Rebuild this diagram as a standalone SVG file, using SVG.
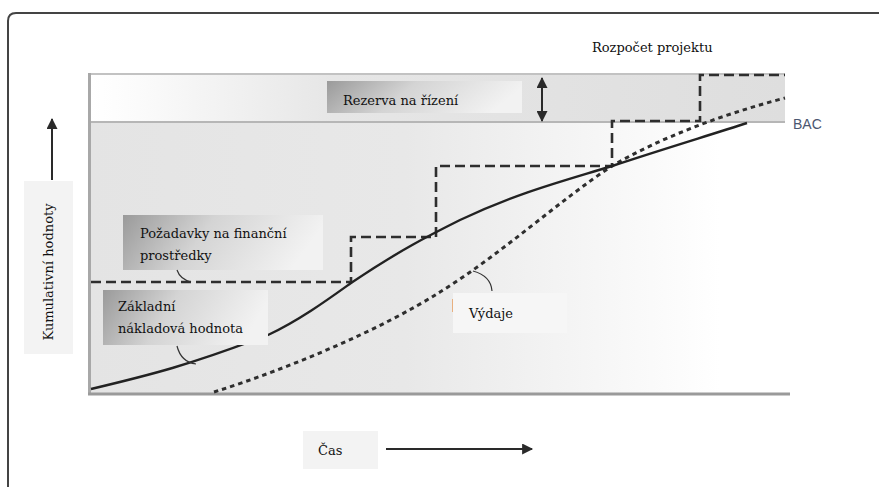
<svg xmlns="http://www.w3.org/2000/svg" width="879" height="487" viewBox="0 0 879 487">
<style>
.lbl{font-family:'DejaVu Serif','Liberation Serif',serif;font-size:13px;fill:#111}
.call{fill:none;stroke:#333;stroke-width:1.2}
.step{fill:none;stroke:#2e2e2e;stroke-width:2.6;stroke-dasharray:10 5}
.dot{fill:none;stroke:#2e2e2e;stroke-width:3;stroke-dasharray:4.5 4}
.solid{fill:none;stroke:#222;stroke-width:2.4}
.ax{stroke:#2a2a2a;stroke-width:2}
</style>
<defs>
<linearGradient id="gBand" x1="0" y1="0" x2="1" y2="0">
<stop offset="0" stop-color="#ffffff"/>
<stop offset="0.07" stop-color="#fbfbfb"/>
<stop offset="0.35" stop-color="#e6e6e6"/>
<stop offset="1" stop-color="#dedede"/>
</linearGradient>
<linearGradient id="gMain" x1="0" y1="0" x2="1" y2="0">
<stop offset="0" stop-color="#e4e4e4"/>
<stop offset="0.45" stop-color="#e8e8e8"/>
<stop offset="0.9" stop-color="#ffffff"/>
<stop offset="1" stop-color="#ffffff"/>
</linearGradient>
<linearGradient id="gBox" x1="0" y1="0" x2="1" y2="0.2">
<stop offset="0" stop-color="#9a9a9a"/>
<stop offset="0.45" stop-color="#d4d4d4"/>
<stop offset="1" stop-color="#f2f2f2"/>
</linearGradient>
<marker id="ah" viewBox="0 0 10 10" refX="9" refY="5" markerWidth="6" markerHeight="5.5" orient="auto-start-reverse" markerUnits="strokeWidth">
<path d="M0,0 L10,5 L0,10 Z" fill="#2a2a2a"/>
</marker>
</defs>

<!-- outer frame -->
<path d="M8,487 V21 Q8,13 16,13 H879" fill="none" stroke="#444" stroke-width="2"/>

<!-- chart background -->
<g id="chart">
<rect x="90" y="122" width="700" height="272" fill="url(#gMain)"/>
<rect x="90" y="74" width="695" height="48" fill="url(#gBand)"/>
<line x1="89" y1="74" x2="785" y2="74" stroke="#c2c2c2" stroke-width="2"/>
<line x1="89" y1="122" x2="785" y2="122" stroke="#b6b6b6" stroke-width="2"/>
<line x1="89.5" y1="73" x2="89.5" y2="395" stroke="#a8a8a8" stroke-width="3"/>
<line x1="88" y1="394" x2="790" y2="394" stroke="#9a9a9a" stroke-width="3"/>
</g>

<g id="series">
<path class="step" d="M91,282 H351 V237 H436 V166 H612 V121 H700 V75 H785"/>
<path class="dot" d="M214,392 C290,368 380,330 440,292 C500,255 560,200 612,166 C660,138 720,115 785,98"/>
<path class="solid" d="M91,389 C150,375 190,365 268,335 C300,320 330,298 351,283 C400,250 430,235 460,220 C520,192 560,182 612,166 C660,150 710,135 747,123"/>
</g>

<g id="project-budget">
<text class="lbl" font-family="DejaVu Serif, serif" x="592" y="52">Rozpočet projektu</text>
</g>

<g id="management-reserve">
<rect x="327" y="81" width="195" height="32" fill="url(#gBox)"/>
<text class="lbl" font-family="DejaVu Serif, serif" x="343" y="105">Rezerva na řízení</text>
</g>

<g id="bac">
<text x="793" y="129" font-family="Liberation Sans, Arial, sans-serif" font-size="14" fill="#4a5670">BAC</text>
</g>

<g id="funding-requirements">
<rect x="123" y="215" width="200" height="55" fill="url(#gBox)"/>
<text class="lbl" font-family="DejaVu Serif, serif" x="140" y="238">Požadavky na finanční</text>
<text class="lbl" font-family="DejaVu Serif, serif" x="140" y="260">prostředky</text>
</g>

<g id="cost-baseline">
<rect x="103" y="290" width="165" height="55" fill="url(#gBox)"/>
<text class="lbl" font-family="DejaVu Serif, serif" x="118" y="311">Základní</text>
<text class="lbl" font-family="DejaVu Serif, serif" x="118" y="333">nákladová hodnota</text>
</g>

<g id="expenditures">
<rect x="453" y="293" width="114" height="40" fill="#f6f6f6"/>
<line x1="452.5" y1="299" x2="452.5" y2="312" stroke="#e8b080" stroke-width="1"/>
<text class="lbl" font-family="DejaVu Serif, serif" x="469" y="318">Výdaje</text>
</g>

<g id="y-axis-label">
<rect x="24" y="181" width="49" height="173" fill="#f3f3f3"/>
<text class="lbl" font-family="DejaVu Serif, serif" transform="translate(53,272) rotate(-90)" text-anchor="middle">Kumulativní hodnoty</text>
</g>

<g id="x-axis-label">
<rect x="303" y="431" width="75" height="38" fill="#f3f3f3"/>
<text class="lbl" font-family="DejaVu Serif, serif" x="318" y="455">Čas</text>
</g>

<g id="connectors">
<line class="ax" x1="52" y1="180" x2="52" y2="119" marker-end="url(#ah)"/>
<line class="ax" x1="386" y1="449" x2="532" y2="449" marker-end="url(#ah)"/>
<line class="ax" x1="542" y1="78" x2="542" y2="121" marker-start="url(#ah)" marker-end="url(#ah)"/>
<path class="call" d="M177,270 Q180,279 191,282"/>
<path class="call" d="M177,346 Q181,362 196,364"/>
<path class="call" d="M473,271 Q491,276 492,291"/>
</g>
</svg>
